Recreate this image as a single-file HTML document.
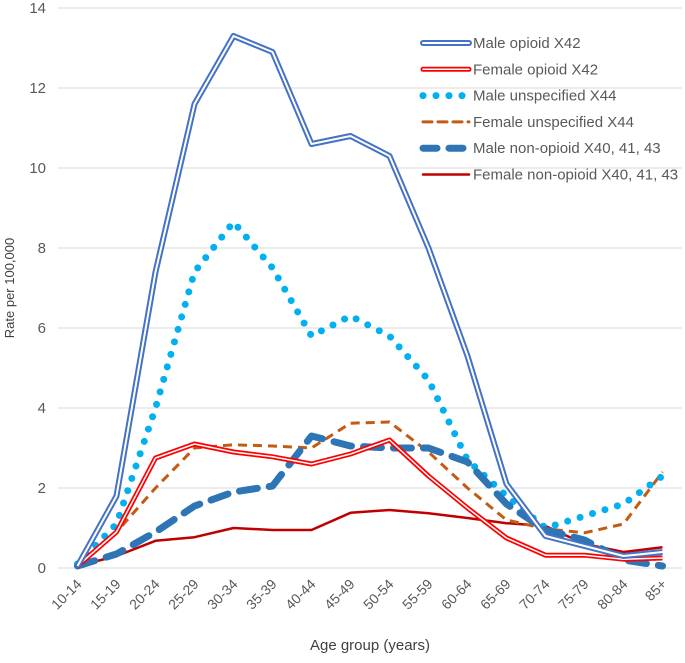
<!DOCTYPE html>
<html><head><meta charset="utf-8"><style>
body{margin:0;background:#fff;}
svg{font-family:"Liberation Sans",Arial,sans-serif;}
</style></head><body>
<svg id="chart" width="685" height="658" viewBox="0 0 685 658">
<g id="grid"></g><g id="axes"></g><g id="series"></g><g id="legend"></g>
<text x="14" y="288" transform="rotate(-90 14 288)" text-anchor="middle" font-size="13" fill="#404040">Rate per 100,000</text>
<text x="370" y="650" text-anchor="middle" font-size="15" fill="#404040">Age group (years)</text>
</svg>
<script>
const categories=["10-14","15-19","20-24","25-29","30-34","35-39","40-44","45-49","50-54","55-59","60-64","65-69","70-74","75-79","80-84","85+"];
const yTicks=[0,2,4,6,8,10,12,14];
const maleOpioid=[0.05,1.8,7.4,11.6,13.3,12.9,10.6,10.8,10.3,8.0,5.3,2.1,0.8,0.55,0.3,0.4];
const femaleOpioid=[0.05,0.9,2.75,3.1,2.9,2.78,2.6,2.85,3.2,2.3,1.5,0.75,0.32,0.32,0.22,0.25];
const maleUnspec=[0.1,1.1,4.0,7.4,8.65,7.5,5.8,6.3,5.8,4.7,2.7,1.8,1.0,1.3,1.6,2.3];
const femaleUnspec=[0.05,0.9,2.0,3.0,3.08,3.05,3.0,3.62,3.65,2.9,2.0,1.2,0.98,0.88,1.1,2.4];
const maleNonOpioid=[0.05,0.35,0.9,1.55,1.9,2.05,3.3,3.05,3.0,3.0,2.65,1.6,0.95,0.7,0.2,0.05];
const femaleNonOpioid=[0.05,0.3,0.68,0.77,1.0,0.95,0.95,1.38,1.45,1.37,1.25,1.12,1.05,0.6,0.4,0.52];
const labels=["Male opioid X42","Female opioid X42","Male unspecified X44","Female unspecified X44","Male non-opioid X40, 41, 43","Female non-opioid X40, 41, 43"];

const NS="http://www.w3.org/2000/svg";
const L=58,W=624,Y0=568,PX=40;
const xs=i=>L+W/categories.length*(i+0.5);
const ys=v=>Y0-v*PX;
function mk(t,a,p){const e=document.createElementNS(NS,t);for(const k in a)e.setAttribute(k,a[k]);p.appendChild(e);return e;}
const grid=document.getElementById('grid'),axes=document.getElementById('axes'),ser=document.getElementById('series'),leg=document.getElementById('legend');
yTicks.forEach(v=>{
  const g=mk('line',{x1:L,x2:L+W,y1:ys(v),y2:ys(v),stroke:'#d9d9d9','stroke-width':1},grid);
  
  
  const t=mk('text',{x:46,y:ys(v)+5,'text-anchor':'end','font-size':15,fill:'#595959'},axes);
  t.textContent=v;
  
  
});
categories.forEach((c,i)=>{
  const x=xs(i)+5,y=585;
  const t=mk('text',{x:x,y:y,'text-anchor':'end','font-size':14,fill:'#595959',transform:`rotate(-45 ${x} ${y})`},axes);
  t.textContent=c;
  
  
});
const styles=[
 [{stroke:'#4472c4','stroke-width':6},{stroke:'#fff','stroke-width':2}],
 [{stroke:'#ff0000','stroke-width':5},{stroke:'#fff','stroke-width':1.5}],
 [{stroke:'#00b0f0','stroke-width':7,'stroke-dasharray':'0 13','stroke-linecap':'round'}],
 [{stroke:'#c55a11','stroke-width':3,'stroke-dasharray':'9 6'}],
 [{stroke:'#2e75b6','stroke-width':7,'stroke-dasharray':'18 12','stroke-linecap':'round'}],
 [{stroke:'#c00000','stroke-width':2.5}]
];
const data=[maleOpioid,femaleOpioid,maleUnspec,femaleUnspec,maleNonOpioid,femaleNonOpioid];
const names=['male-opioid-line','female-opioid-line','male-unspecified-line','female-unspecified-line','male-non-opioid-line','female-non-opioid-line'];
const order=[5,3,2,4,1,0];
order.forEach(s=>{
  const pts=data[s].map((v,i)=>xs(i)+','+ys(v)).join(' ');
  styles[s].forEach(st=>{
    const p=mk('polyline',Object.assign({points:pts,fill:'none','stroke-linejoin':'round'},st),ser);
    
    
  });
});
labels.forEach((lb,s)=>{
  const y=43+s*26.3;
  styles[s].forEach(st=>{
    const a=Object.assign({x1:423,x2:469,y1:y,y2:y,'stroke-linecap':'round'},st);
    if(s===2){a.x1=423;a.x2=468;a['stroke-dasharray']='0 13';}
    if(s===4){a['stroke-dasharray']='14 12';}
    const l=mk('line',a,leg);
    
    
  });
  const t=mk('text',{x:473,y:y+5,'font-size':15,fill:'#595959'},leg);
  t.textContent=lb;
  
  
});
</script>
</body></html>
